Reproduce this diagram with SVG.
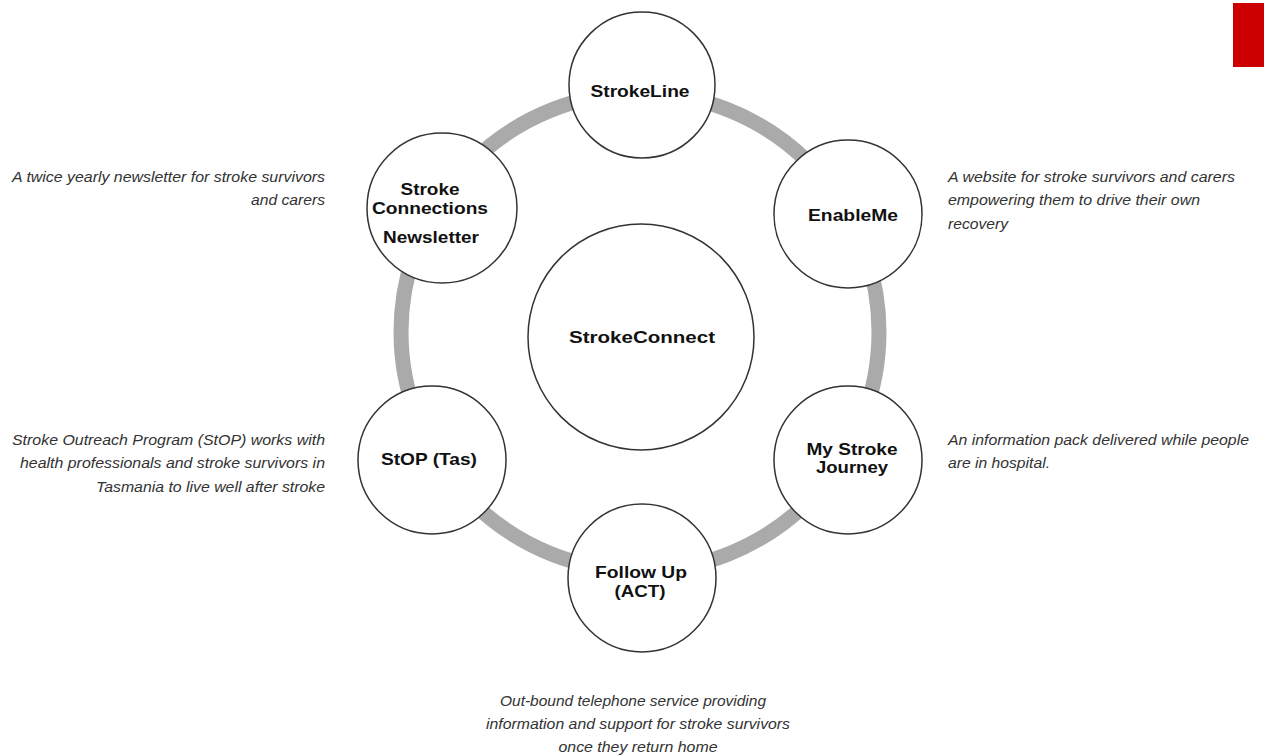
<svg xmlns="http://www.w3.org/2000/svg" width="1264" height="756" viewBox="0 0 1264 756">
<style>
.node{fill:#fff;stroke:#333;stroke-width:1.5}
.lbl{font-family:"Liberation Sans",Arial,sans-serif;font-weight:bold;font-size:16.5px;fill:#111;text-anchor:middle}
.desc{font-family:"Liberation Sans",Arial,sans-serif;font-style:italic;font-size:14.5px;fill:#333}
</style>
<rect width="1264" height="756" fill="#fff"/>
<rect x="1233" y="3" width="31" height="64" fill="#cc0000"/>
<g id="connectors">
<circle cx="640" cy="332" r="239" fill="none" stroke="#aaaaaa" stroke-width="15"/>
</g>
<g id="center">
<circle class="node" cx="641" cy="337" r="113"/>
<text class="lbl" x="642" y="343" font-size="19" textLength="146" lengthAdjust="spacingAndGlyphs">StrokeConnect</text>
</g>
<g id="strokeline">
<circle class="node" cx="642" cy="85" r="73"/>
<text class="lbl" x="640" y="97" textLength="99" lengthAdjust="spacingAndGlyphs">StrokeLine</text>
</g>
<g id="enableme">
<circle class="node" cx="848" cy="214" r="74"/>
<text class="lbl" x="853" y="221" textLength="90" lengthAdjust="spacingAndGlyphs">EnableMe</text>
</g>
<g id="mystrokejourney">
<circle class="node" cx="848" cy="460" r="74"/>
<text class="lbl" x="852" y="455" textLength="91" lengthAdjust="spacingAndGlyphs">My Stroke</text>
<text class="lbl" x="852" y="473" textLength="72" lengthAdjust="spacingAndGlyphs">Journey</text>
</g>
<g id="followup">
<circle class="node" cx="642" cy="578" r="74"/>
<text class="lbl" x="641" y="578" textLength="92" lengthAdjust="spacingAndGlyphs">Follow Up</text>
<text class="lbl" x="640" y="597" textLength="51" lengthAdjust="spacingAndGlyphs">(ACT)</text>
</g>
<g id="stop">
<circle class="node" cx="432" cy="460" r="74"/>
<text class="lbl" x="429" y="465" textLength="96" lengthAdjust="spacingAndGlyphs">StOP (Tas)</text>
</g>
<g id="newsletter">
<circle class="node" cx="442" cy="208" r="75"/>
<text class="lbl" x="430" y="195" textLength="59" lengthAdjust="spacingAndGlyphs">Stroke</text>
<text class="lbl" x="430" y="214" textLength="116" lengthAdjust="spacingAndGlyphs">Connections</text>
<text class="lbl" x="431" y="243" textLength="96" lengthAdjust="spacingAndGlyphs">Newsletter</text>
</g>
<g id="descriptions">
<text class="desc" x="325" y="182" text-anchor="end" textLength="313" lengthAdjust="spacingAndGlyphs">A twice yearly newsletter for stroke survivors</text>
<text class="desc" x="325" y="205" text-anchor="end" textLength="74" lengthAdjust="spacingAndGlyphs">and carers</text>
<text class="desc" x="325" y="445" text-anchor="end" textLength="313" lengthAdjust="spacingAndGlyphs">Stroke Outreach Program (StOP) works with</text>
<text class="desc" x="325" y="468" text-anchor="end" textLength="305" lengthAdjust="spacingAndGlyphs">health professionals and stroke survivors in</text>
<text class="desc" x="325" y="492" text-anchor="end" textLength="229" lengthAdjust="spacingAndGlyphs">Tasmania to live well after stroke</text>
<text class="desc" x="948" y="182" textLength="287" lengthAdjust="spacingAndGlyphs">A website for stroke survivors and carers</text>
<text class="desc" x="948" y="205" textLength="252" lengthAdjust="spacingAndGlyphs">empowering them to drive their own</text>
<text class="desc" x="948" y="229" textLength="60" lengthAdjust="spacingAndGlyphs">recovery</text>
<text class="desc" x="948" y="445" textLength="301" lengthAdjust="spacingAndGlyphs">An information pack delivered while people</text>
<text class="desc" x="948" y="468" textLength="102" lengthAdjust="spacingAndGlyphs">are in hospital.</text>
<text class="desc" x="633" y="706" text-anchor="middle" textLength="266" lengthAdjust="spacingAndGlyphs">Out-bound telephone service providing</text>
<text class="desc" x="638" y="729" text-anchor="middle" textLength="304" lengthAdjust="spacingAndGlyphs">information and support for stroke survivors</text>
<text class="desc" x="638" y="752" text-anchor="middle" textLength="159" lengthAdjust="spacingAndGlyphs">once they return home</text>
</g>
</svg>
